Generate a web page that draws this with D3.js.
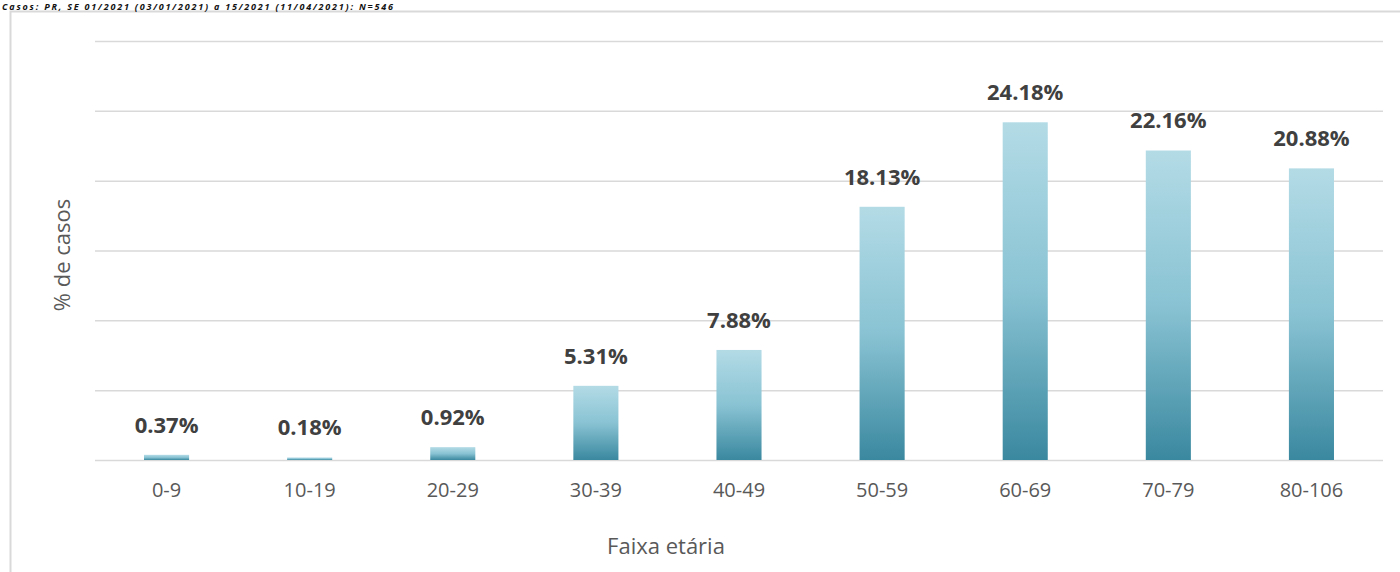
<!DOCTYPE html>
<html>
<head>
<meta charset="utf-8">
<script src="https://cdn.jsdelivr.net/npm/d3@7"></script>
<style>
body { margin: 0; background: #fff; }
svg { display: block; }
</style>
</head>
<body>
<svg id="chart" width="1400" height="572"></svg>
<script>
var faixas = ["0-9", "10-19", "20-29", "30-39", "40-49", "50-59", "60-69", "70-79", "80-106"];
var pctCasos = [0.37, 0.18, 0.92, 5.31, 7.88, 18.13, 24.18, 22.16, 20.88];
var yTicks = [0, 5, 10, 15, 20, 25, 30];
var titulo = "Casos: PR, SE 01/2021 (03/01/2021) a 15/2021 (11/04/2021): N=546";

var svg = d3.select("#chart"),
    margin = {top: 41, right: 17, bottom: 112, left: 95},
    width = +svg.attr("width") - margin.left - margin.right,
    height = +svg.attr("height") - margin.top - margin.bottom;

// frame of the chart area
svg.append("path")
    .attr("d", "M10.5,572 V11.5 H1400")
    .attr("fill", "none")
    .attr("stroke", "#d9d9d9")
    .attr("stroke-width", 2);

// title (shown cut at the top in the source; kept whole here)
svg.append("text")
    .attr("x", 2)
    .attr("y", 10)
    .attr("font-family", "'Open Sans', sans-serif")
    .attr("font-weight", "bold")
    .attr("font-style", "italic")
    .attr("font-size", 9)
    .attr("letter-spacing", 1.8)
    .attr("fill", "#111")
    .text(titulo);

var defs = svg.append("defs");
var grad = defs.append("linearGradient")
    .attr("id", "barGrad")
    .attr("x1", 0).attr("y1", 0).attr("x2", 0).attr("y2", 1);
grad.append("stop").attr("offset", "0%").attr("stop-color", "#b3dbe6");
grad.append("stop").attr("offset", "50%").attr("stop-color", "#89c3d3");
grad.append("stop").attr("offset", "100%").attr("stop-color", "#3a889f");

var g = svg.append("g")
    .attr("transform", "translate(" + margin.left + "," + margin.top + ")");

var x = d3.scaleBand().domain(faixas).range([0, width]).paddingInner(0.685).paddingOuter(0.3425);
var y = d3.scaleLinear().domain([0, 30]).range([height, 0]);

// gridlines
g.append("g")
    .attr("class", "grid")
    .call(d3.axisLeft(y).tickValues(yTicks).tickSize(-width).tickFormat(""))
    .call(function (s) {
        s.select(".domain").remove();
        s.selectAll("line").attr("stroke", "#d9d9d9").attr("stroke-width", 1.5);
    });

// x axis
g.append("g")
    .attr("transform", "translate(0," + height + ")")
    .call(d3.axisBottom(x).tickSize(0).tickPadding(23))
    .call(function (s) {
        s.select(".domain").remove();
        s.selectAll("text")
            .attr("font-family", "'Open Sans', sans-serif")
            .attr("font-size", 20)
            .attr("fill", "#595959");
    });

// bars
g.selectAll("rect.bar")
    .data(pctCasos)
    .enter().append("rect")
    .attr("class", "bar")
    .attr("x", function (d, i) { return x(faixas[i]); })
    .attr("width", x.bandwidth())
    .attr("y", function (d) { return y(d); })
    .attr("height", function (d) { return height - y(d); })
    .attr("fill", "url(#barGrad)");

// value labels
g.selectAll("text.lbl")
    .data(pctCasos)
    .enter().append("text")
    .attr("class", "lbl")
    .attr("x", function (d, i) { return x(faixas[i]) + x.bandwidth() / 2; })
    .attr("y", function (d) { return y(d) - 22; })
    .attr("text-anchor", "middle")
    .attr("font-family", "'Open Sans', sans-serif")
    .attr("font-weight", "bold")
    .attr("font-size", 22)
    .attr("fill", "#404040")
    .text(function (d) { return d.toFixed(2) + "%"; });

// axis titles
svg.append("text")
    .attr("x", 666)
    .attr("y", 554)
    .attr("text-anchor", "middle")
    .attr("font-family", "'Open Sans', sans-serif")
    .attr("font-size", 22)
    .attr("fill", "#595959")
    .text("Faixa etária");

svg.append("text")
    .attr("transform", "translate(70,255) rotate(-90)")
    .attr("text-anchor", "middle")
    .attr("font-family", "'Open Sans', sans-serif")
    .attr("font-size", 22)
    .attr("fill", "#595959")
    .text("% de casos");
</script>
</body>
</html>
